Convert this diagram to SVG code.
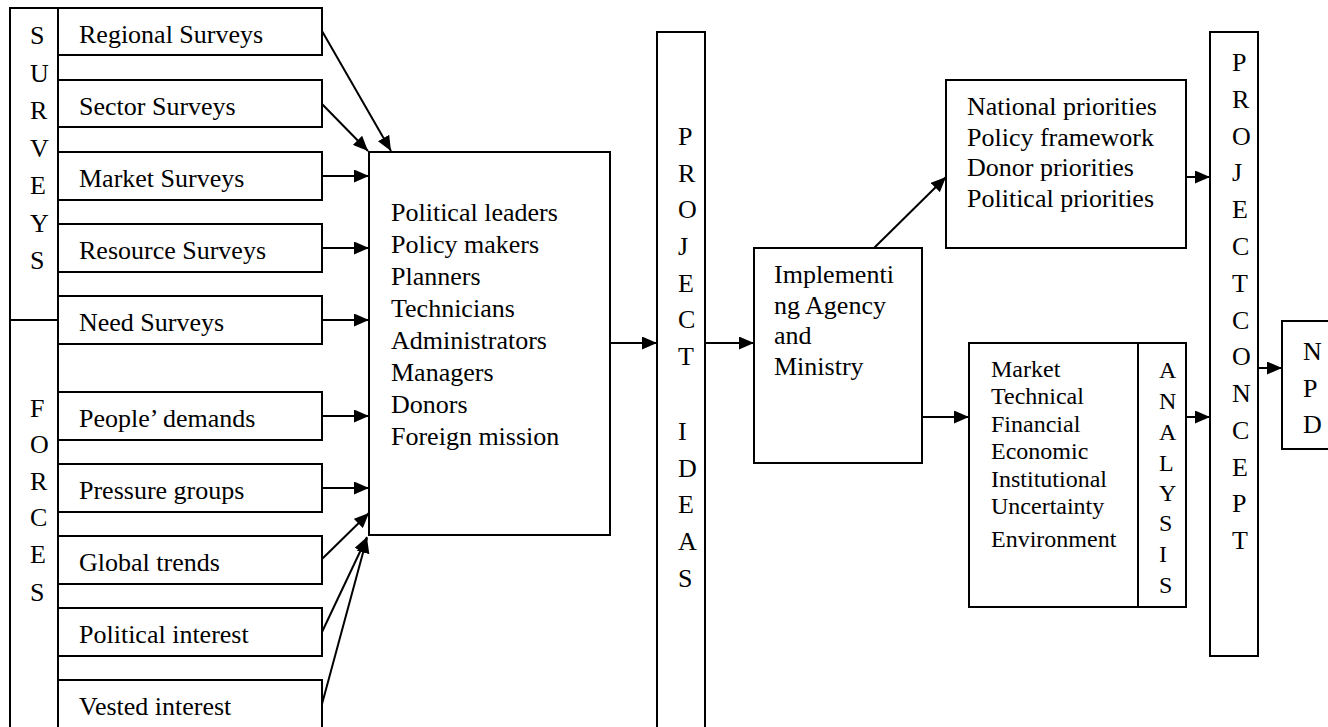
<svg xmlns="http://www.w3.org/2000/svg" width="1328" height="727" viewBox="0 0 1328 727">
  <style>
    .box { fill: #ffffff; stroke: #000000; stroke-width: 2; }
    .edge { fill: none; stroke: #000000; stroke-width: 2; }
    .t { font-size: 26px; fill: #000000; }
    .s { font-size: 24px; fill: #000000; }
  </style>
  <defs>
    <marker id="arrow" markerUnits="userSpaceOnUse" markerWidth="15" markerHeight="13" refX="15" refY="6.5" orient="auto">
      <path d="M0,0 L15,6.5 L0,13 Z" fill="#000000"/>
    </marker>
  </defs>
  <rect width="1328" height="727" fill="#ffffff"/>

  <g font-family="Liberation Serif, Times New Roman, DejaVu Serif, serif">
  <!-- left column: SURVEYS / FORCES -->
  <g id="surveys-forces">
    <rect class="box" x="10" y="8" width="48" height="740"/>
    <line class="edge" x1="10" y1="320" x2="58" y2="320"/>
    <text class="t" x="30" y="44">S</text>
    <text class="t" x="30" y="81.5">U</text>
    <text class="t" x="30" y="119">R</text>
    <text class="t" x="30" y="156.5">V</text>
    <text class="t" x="30" y="194">E</text>
    <text class="t" x="30" y="231.5">Y</text>
    <text class="t" x="30" y="269">S</text>
    <text class="t" x="30" y="417">F</text>
    <text class="t" x="30" y="453">O</text>
    <text class="t" x="30" y="490">R</text>
    <text class="t" x="30" y="526">C</text>
    <text class="t" x="30" y="563">E</text>
    <text class="t" x="30" y="601">S</text>
  </g>

  <!-- input boxes -->
  <g id="regional-surveys"><rect class="box" x="58" y="8" width="264" height="47"/><text class="t" x="79" y="43">Regional Surveys</text></g>
  <g id="sector-surveys"><rect class="box" x="58" y="80" width="264" height="47"/><text class="t" x="79" y="115">Sector Surveys</text></g>
  <g id="market-surveys"><rect class="box" x="58" y="152" width="264" height="48"/><text class="t" x="79" y="187">Market Surveys</text></g>
  <g id="resource-surveys"><rect class="box" x="58" y="224" width="264" height="48"/><text class="t" x="79" y="259">Resource Surveys</text></g>
  <g id="need-surveys"><rect class="box" x="58" y="296" width="264" height="48"/><text class="t" x="79" y="331">Need Surveys</text></g>
  <g id="peoples-demands"><rect class="box" x="58" y="392" width="264" height="48"/><text class="t" x="79" y="427">People’ demands</text></g>
  <g id="pressure-groups"><rect class="box" x="58" y="464" width="264" height="48"/><text class="t" x="79" y="499">Pressure groups</text></g>
  <g id="global-trends"><rect class="box" x="58" y="536" width="264" height="48"/><text class="t" x="79" y="571">Global trends</text></g>
  <g id="political-interest"><rect class="box" x="58" y="608" width="264" height="48"/><text class="t" x="79" y="643">Political interest</text></g>
  <g id="vested-interest"><rect class="box" x="58" y="680" width="264" height="60"/><text class="t" x="79" y="715">Vested interest</text></g>

  <!-- actors -->
  <g id="actors">
    <rect class="box" x="369" y="152" width="241" height="383"/>
    <text class="t" x="391" y="221">Political leaders</text>
    <text class="t" x="391" y="253">Policy makers</text>
    <text class="t" x="391" y="285">Planners</text>
    <text class="t" x="391" y="317">Technicians</text>
    <text class="t" x="391" y="349">Administrators</text>
    <text class="t" x="391" y="381">Managers</text>
    <text class="t" x="391" y="413">Donors</text>
    <text class="t" x="391" y="445">Foreign mission</text>
  </g>

  <!-- PROJECT IDEAS column -->
  <g id="project-ideas">
    <rect class="box" x="657" y="32" width="48" height="720"/>
    <text class="t" x="678" y="145">P</text>
    <text class="t" x="678" y="182">R</text>
    <text class="t" x="678" y="218">O</text>
    <text class="t" x="678" y="255">J</text>
    <text class="t" x="678" y="292">E</text>
    <text class="t" x="678" y="328">C</text>
    <text class="t" x="678" y="365">T</text>
    <text class="t" x="678" y="440">I</text>
    <text class="t" x="678" y="477">D</text>
    <text class="t" x="678" y="513">E</text>
    <text class="t" x="678" y="550">A</text>
    <text class="t" x="678" y="587">S</text>
  </g>

  <!-- implementing agency -->
  <g id="implementing-agency">
    <rect class="box" x="754" y="248" width="168" height="215"/>
    <text class="t" x="774" y="283">Implementi</text>
    <text class="t" x="774" y="314">ng Agency</text>
    <text class="t" x="774" y="344">and</text>
    <text class="t" x="774" y="375">Ministry</text>
  </g>

  <!-- priorities -->
  <g id="priorities">
    <rect class="box" x="946" y="80" width="240" height="168"/>
    <text class="t" x="967" y="115">National priorities</text>
    <text class="t" x="967" y="146">Policy framework</text>
    <text class="t" x="967" y="176">Donor priorities</text>
    <text class="t" x="967" y="207">Political priorities</text>
  </g>

  <!-- analysis -->
  <g id="analysis">
    <rect class="box" x="969" y="343" width="217" height="264"/>
    <line class="edge" x1="1138" y1="343" x2="1138" y2="607"/>
    <text class="s" x="991" y="377">Market</text>
    <text class="s" x="991" y="404">Technical</text>
    <text class="s" x="991" y="432">Financial</text>
    <text class="s" x="991" y="459">Economic</text>
    <text class="s" x="991" y="487">Institutional</text>
    <text class="s" x="991" y="514">Uncertainty</text>
    <text class="s" x="991" y="547">Environment</text>
    <text class="s" x="1159" y="378">A</text>
    <text class="s" x="1159" y="409">N</text>
    <text class="s" x="1159" y="440">A</text>
    <text class="s" x="1159" y="471">L</text>
    <text class="s" x="1159" y="501">Y</text>
    <text class="s" x="1159" y="531">S</text>
    <text class="s" x="1159" y="562">I</text>
    <text class="s" x="1159" y="593">S</text>
  </g>

  <!-- PROJECT CONCEPT column -->
  <g id="project-concept">
    <rect class="box" x="1210" y="32" width="48" height="624"/>
    <text class="t" x="1232" y="71">P</text>
    <text class="t" x="1232" y="108">R</text>
    <text class="t" x="1232" y="145">O</text>
    <text class="t" x="1232" y="181">J</text>
    <text class="t" x="1232" y="218">E</text>
    <text class="t" x="1232" y="255">C</text>
    <text class="t" x="1232" y="292">T</text>
    <text class="t" x="1232" y="329">C</text>
    <text class="t" x="1232" y="365">O</text>
    <text class="t" x="1232" y="402">N</text>
    <text class="t" x="1232" y="439">C</text>
    <text class="t" x="1232" y="476">E</text>
    <text class="t" x="1232" y="512">P</text>
    <text class="t" x="1232" y="549">T</text>
  </g>

  <!-- NPD -->
  <g id="npd">
    <rect class="box" x="1282" y="321" width="60" height="128"/>
    <text class="t" x="1303" y="360">N</text>
    <text class="t" x="1303" y="397">P</text>
    <text class="t" x="1303" y="433">D</text>
  </g>
  </g>

  <!-- connectors -->
  <g id="connectors">
    <line class="edge" marker-end="url(#arrow)" x1="322" y1="31" x2="391" y2="151"/>
    <line class="edge" marker-end="url(#arrow)" x1="322" y1="104" x2="368" y2="151"/>
    <line class="edge" marker-end="url(#arrow)" x1="322" y1="176" x2="369" y2="176"/>
    <line class="edge" marker-end="url(#arrow)" x1="322" y1="248" x2="369" y2="248"/>
    <line class="edge" marker-end="url(#arrow)" x1="322" y1="320" x2="369" y2="320"/>
    <line class="edge" marker-end="url(#arrow)" x1="322" y1="416" x2="369" y2="416"/>
    <line class="edge" marker-end="url(#arrow)" x1="322" y1="488" x2="369" y2="488"/>
    <line class="edge" marker-end="url(#arrow)" x1="322" y1="559" x2="369" y2="513"/>
    <line class="edge" marker-end="url(#arrow)" x1="322" y1="632" x2="367" y2="537"/>
    <line class="edge" marker-end="url(#arrow)" x1="322" y1="704" x2="367" y2="538"/>
    <line class="edge" marker-end="url(#arrow)" x1="610" y1="343" x2="657" y2="343"/>
    <line class="edge" marker-end="url(#arrow)" x1="705" y1="343" x2="754" y2="343"/>
    <line class="edge" marker-end="url(#arrow)" x1="874" y1="248" x2="946" y2="177"/>
    <line class="edge" marker-end="url(#arrow)" x1="922" y1="417" x2="969" y2="417"/>
    <line class="edge" marker-end="url(#arrow)" x1="1186" y1="177" x2="1210" y2="177"/>
    <line class="edge" marker-end="url(#arrow)" x1="1186" y1="417" x2="1210" y2="417"/>
    <line class="edge" marker-end="url(#arrow)" x1="1258" y1="368" x2="1282" y2="368"/>
  </g>
</svg>
